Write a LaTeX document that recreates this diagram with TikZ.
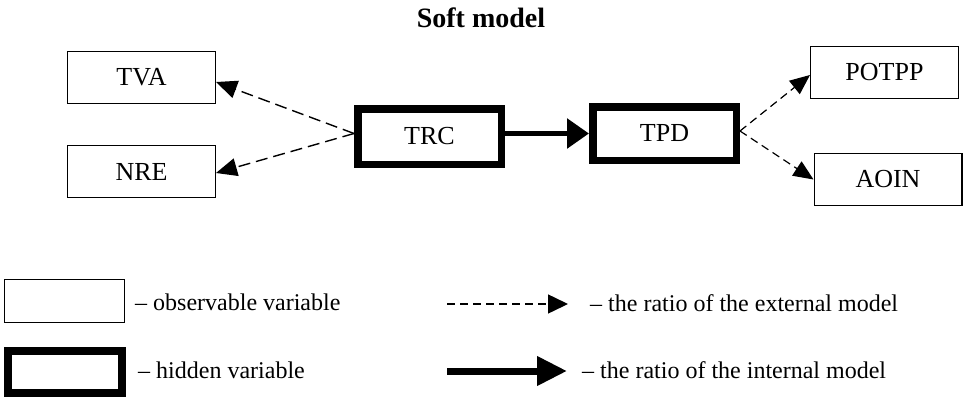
\documentclass[tikz,border=0pt]{standalone}
\usepackage{fontspec}
\setmainfont{Liberation Serif}
\usetikzlibrary{arrows.meta,calc}
\tikzset{
  obsbox/.style={draw, line width=1.4pt, inner sep=0pt, minimum width=147.6pt, minimum height=51.6pt, font=\fontsize{26}{30}\selectfont},
  hidbox/.style={draw, line width=7.5pt, inner sep=0pt, minimum width=143.5pt, font=\fontsize{26}{30}\selectfont},
  extarrow/.style={line width=1.4pt, dash pattern=on 12pt off 6pt, -{Triangle[length=21pt,width=18pt]}},
  extarrowr/.style={line width=1.2pt, dash pattern=on 8pt off 5pt, -{Triangle[length=20pt,width=17pt]}},
  intarrow/.style={line width=5.5pt, -{Triangle[length=22pt,width=29pt]}},
  legtext/.style={anchor=west, inner sep=0pt, font=\fontsize{24}{28}\selectfont},
}
\begin{document}
\begin{tikzpicture}[x=1pt,y=-1pt]
\useasboundingbox (0,0) rectangle (963,399);
% title
\node[font=\bfseries\fontsize{28}{32}\selectfont] (title) at (481,18) {Soft model};
% boxes
\node[obsbox] (TVA) at (141.5,77.5) {TVA};
\node[obsbox] (NRE) at (141.5,171.5) {NRE};
\node[hidbox, minimum height=55.5pt] (TRC) at (429.5,136.5) {TRC};
\node[hidbox, minimum height=53.5pt] (TPD) at (664.5,133.5) {TPD};
\node[obsbox] (POTPP) at (884.5,72.5) {POTPP};
\node[obsbox] (AOIN) at (888,179.5) {AOIN};
% connectors
\draw[extarrow] ([yshift=3pt]TRC.west) -- ([yshift=-4.5pt]TVA.east);
\draw[extarrow] ([yshift=3pt]TRC.west) -- ([yshift=-1.5pt]NRE.east);
\draw[intarrow] (TRC.east |- TPD.west) -- (TPD.west);
\draw[extarrowr] ([yshift=2.5pt]TPD.east) -- ([yshift=-2.5pt]POTPP.west);
\draw[extarrowr] ([yshift=2.5pt]TPD.east) -- (AOIN.west);
% legend
\node[draw, line width=1.4pt, inner sep=0pt, minimum width=119.6pt, minimum height=42.6pt] (legobs) at (64.5,301) {};
\node[legtext] (legobst) at (135,302) {– observable variable};
\node[draw, line width=8pt, inner sep=0pt, minimum width=114pt, minimum height=42pt] (leghid) at (65,372) {};
\node[legtext] (leghidt) at (138,370) {– hidden variable};
\coordinate (ld1) at (447,304);
\coordinate (ld2) at (568,304);
\draw[line width=1.5pt, dash pattern=on 8pt off 5pt, -{Triangle[length=20pt,width=19pt]}] (ld1) -- (ld2);
\node[legtext] (legextt) at (590,303) {– the ratio of the external model};
\coordinate (ls1) at (447,371);
\coordinate (ls2) at (567,371);
\draw[line width=7pt, -{Triangle[length=30pt,width=28pt]}] (ls1) -- (ls2);
\node[legtext] (leginnt) at (582,370) {– the ratio of the internal model};
\end{tikzpicture}
\end{document}
